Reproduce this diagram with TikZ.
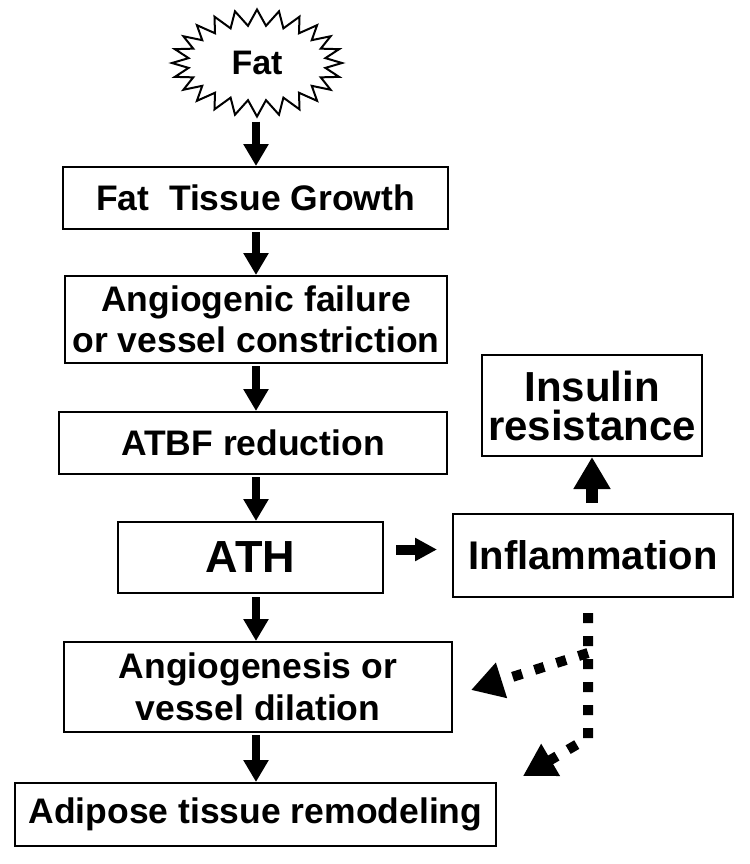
\documentclass[tikz,border=0pt]{standalone}
\usepackage{fontspec}
\setmainfont{Liberation Sans}
\usetikzlibrary{calc}
\usetikzlibrary{shapes}
\usetikzlibrary{arrows.meta}

\tikzset{
  box/.style={draw, line width=1pt, inner sep=0pt, align=center, font=\bfseries\fontsize{17.75}{20.5}\selectfont},
  flow/.style={line width=4pt, -{Triangle[width=12pt,length=11pt]}},
  sideflow/.style={line width=5pt, -{Triangle[width=11pt,length=11pt]}},
  bigflow/.style={line width=6pt, -{Triangle[width=17.5pt,length=16pt]}},
  dotflow/.style={line width=5pt, dash pattern=on 5pt off 6.5pt, -{Triangle[width=17.5pt,length=16pt]}},
}

\begin{document}
\begin{tikzpicture}[x=0.5pt,y=-0.5pt]
\useasboundingbox (0,0) rectangle (750,864);
\node (fat) at (257,63) [draw, shape=starburst, starburst points=24, starburst point height=8pt, random starburst=0, line width=1pt, minimum width=85pt, minimum height=53.5pt, inner sep=0pt, font=\bfseries\fontsize{17}{20}\selectfont] {Fat};
\node (growth) at (255.5,198) [box, minimum width=192.5pt, minimum height=31pt] {Fat\ \ Tissue Growth};
\node (failure) at (256,319.5) [box, minimum width=191pt, minimum height=43.5pt] {Angiogenic failure\\or vessel constriction};
\node (atbf) at (253,443) [box, minimum width=194pt, minimum height=31pt] {ATBF reduction};
\node (ath) at (250.5,557.5) [box, minimum width=132.5pt, minimum height=35.5pt, font=\bfseries\fontsize{22.5}{26}\selectfont] {ATH};
\node (inflam) at (593,555.5) [box, minimum width=140pt, minimum height=41.5pt, font=\bfseries\fontsize{20}{23}\selectfont] {Inflammation};
\node (insulin) at (592,405.5) [box, minimum width=110pt, minimum height=50.5pt, font=\bfseries\fontsize{21}{19.5}\selectfont] {Insulin\\resistance};
\node (angio) at (258,687) [box, minimum width=194pt, minimum height=45pt, font=\bfseries\fontsize{17.75}{21}\selectfont] {Angiogenesis or\\vessel dilation};
\node (remodel) at (255.5,814.5) [box, minimum width=240.5pt, minimum height=31.5pt] {Adipose tissue remodeling};
\coordinate (axis) at (256,0);
\coordinate (split) at (588,653);
\coordinate (bend) at (588,738);

% main column
\draw[flow, shorten <=1.5pt] (fat.south -| axis) -- (growth.north -| axis);
\draw[flow, shorten <=1pt] (growth.south -| axis) -- (failure.north -| axis);
\draw[flow, shorten <=1pt] (failure.south -| axis) -- (atbf.north -| axis);
\draw[flow, shorten <=1pt] (atbf.south -| axis) -- (ath.north -| axis);
\draw[flow, shorten <=1.5pt] (ath.south -| axis) -- (angio.north -| axis);
\draw[flow, shorten <=1pt] (angio.south -| axis) -- (remodel.north -| axis);

% side branch
\draw[sideflow, shorten <=6pt, shorten >=7.5pt] ([yshift=4pt]ath.east) -- ([yshift=4pt]ath.east -| inflam.west);
\draw[bigflow, shorten <=5pt] ([xshift=-0.5pt]inflam.north) -- ([xshift=-0.5pt]inflam.north |- insulin.south);
\draw[dotflow, shorten <=7.5pt] (inflam.south -| split) -- (bend) -- ($(remodel.north east)+(26,-6)$);
\draw[dotflow] (split) -- ($(angio.east)+(18,3)$);
\end{tikzpicture}
\end{document}
